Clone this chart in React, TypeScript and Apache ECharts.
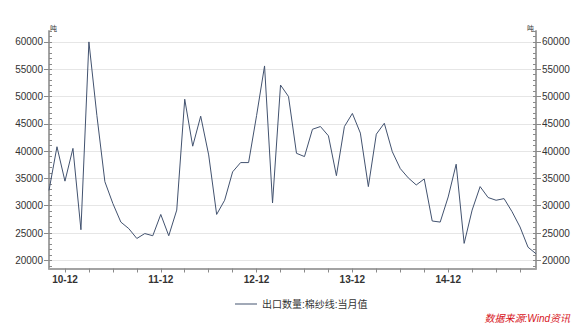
import React, { useEffect, useRef } from "react";
import * as echarts from "echarts";

const months: string[] = [
  "10-10", "10-11", "10-12",
  "11-01", "11-02", "11-03", "11-04", "11-05", "11-06", "11-07", "11-08", "11-09", "11-10", "11-11", "11-12",
  "12-01", "12-02", "12-03", "12-04", "12-05", "12-06", "12-07", "12-08", "12-09", "12-10", "12-11", "12-12",
  "13-01", "13-02", "13-03", "13-04", "13-05", "13-06", "13-07", "13-08", "13-09", "13-10", "13-11", "13-12",
  "14-01", "14-02", "14-03", "14-04", "14-05", "14-06", "14-07", "14-08", "14-09", "14-10", "14-11", "14-12",
  "15-01", "15-02", "15-03", "15-04", "15-05", "15-06", "15-07", "15-08", "15-09", "15-10", "15-11",
];

const exportVolume: number[] = [
  32800, 40800, 34500, 40500, 25600, 60000, 46500, 34400, 30400, 27000,
  25800, 24000, 24900, 24500, 28400, 24500, 29200, 49500, 40900, 46400,
  39300, 28400, 31000, 36200, 37900, 37900, 46500, 55600, 30500, 52100,
  50000, 39600, 39000, 44000, 44500, 42800, 35500, 44500, 46900, 43300,
  33500, 43100, 45100, 39900, 36800, 35100, 33800, 34900, 27200, 27000,
  31600, 37600, 23100, 29200, 33500, 31500, 31000, 31300, 28900, 26100,
  22400, 21200,
];

const majorTicks: number[] = [20000, 25000, 30000, 35000, 40000, 45000, 50000, 55000, 60000];
const minorTicks: number[] = [
  19000, 20000, 21000, 22000, 23000, 24000, 25000, 26000, 27000, 28000, 29000,
  30000, 31000, 32000, 33000, 34000, 35000, 36000, 37000, 38000, 39000, 40000,
  41000, 42000, 43000, 44000, 45000, 46000, 47000, 48000, 49000, 50000, 51000,
  52000, 53000, 54000, 55000, 56000, 57000, 58000, 59000, 60000, 61000, 62000,
];

const seriesName = "出口数量:棉纱线:当月值";
const sourceText = "数据来源:Wind资讯";
const unitText = "吨";

const Y_MIN = 18500;
const Y_MAX = 62000;
const AXIS_COLOR = "#a3a3a3";
const LINE_COLOR = "#42526f";
const FONT = "'Liberation Sans', 'Noto Sans CJK SC', sans-serif";

export default function App() {
  const ref = useRef<HTMLDivElement>(null);

  useEffect(() => {
    if (!ref.current) return;
    const chart = echarts.init(ref.current, null, { renderer: "svg" });

    const mainY = (position: "left" | "right") => ({
      type: "value",
      position,
      min: Y_MIN,
      max: Y_MAX,
      interval: 500,
      axisLine: { show: true, lineStyle: { color: AXIS_COLOR, width: 2 } },
      axisTick: {
        show: true,
        inside: false,
        length: 5,
        customValues: majorTicks,
        lineStyle: { color: "#8a8a8a", width: 1 },
      },
      axisLabel: {
        show: true,
        customValues: majorTicks,
        formatter: (v: number) => String(v),
        margin: 6,
        fontSize: 10,
        color: "#333",
        fontFamily: FONT,
      },
      splitLine: {
        show: position === "left",
        lineStyle: { color: "#e6e6e6", width: 1 },
      },
    });

    const minorY = (position: "left" | "right") => ({
      type: "value",
      position,
      min: Y_MIN,
      max: Y_MAX,
      interval: 500,
      axisLine: { show: false },
      axisTick: {
        show: true,
        inside: true,
        length: 3,
        customValues: minorTicks,
        lineStyle: { color: "#8a8a8a", width: 1 },
      },
      axisLabel: { show: false },
      splitLine: { show: false },
    });

    chart.setOption({
      animation: false,
      backgroundColor: "#ffffff",
      textStyle: { fontFamily: FONT },
      grid: { left: 49, right: 44, top: 31, bottom: 63.5, containLabel: false },
      legend: {
        data: [seriesName],
        icon: "rect",
        left: 230,
        top: 294,
        itemWidth: 22,
        itemHeight: 1,
        textStyle: { fontSize: 10, color: "#333", fontFamily: FONT },
      },
      xAxis: {
        type: "category",
        data: months,
        boundaryGap: false,
        axisLine: { show: true, lineStyle: { color: AXIS_COLOR, width: 2 } },
        axisTick: {
          show: true,
          length: 4,
          interval: (i: number) => i % 3 === 2,
          lineStyle: { color: "#8a8a8a", width: 1 },
        },
        axisLabel: {
          interval: (i: number) => i % 12 === 2,
          margin: 6,
          fontSize: 10,
          fontWeight: "bold",
          color: "#333",
          fontFamily: FONT,
        },
        splitLine: { show: false },
      },
      yAxis: [mainY("left"), mainY("right"), minorY("left"), minorY("right")],
      series: [
        {
          name: seriesName,
          type: "line",
          data: exportVolume,
          yAxisIndex: 0,
          symbol: "none",
          showSymbol: false,
          lineStyle: { color: LINE_COLOR, width: 1 },
          itemStyle: { color: LINE_COLOR },
        },
      ],
      graphic: [
        {
          type: "text",
          left: 50,
          top: 25,
          style: { text: unitText, fontSize: 7, fill: "#333", fontFamily: FONT },
        },
        {
          type: "text",
          right: 46,
          top: 25,
          style: { text: unitText, fontSize: 7, fill: "#333", fontFamily: FONT },
        },
        {
          type: "text",
          right: 10,
          top: 313,
          style: {
            text: sourceText,
            fontSize: 10,
            fontStyle: "italic",
            fill: "#d7141c",
            fontFamily: FONT,
          },
        },
      ],
    });

    return () => chart.dispose();
  }, []);

  return (
    <div
      ref={ref}
      style={{ position: "fixed", left: 0, top: 0, width: 580, height: 332, background: "#fff" }}
    />
  );
}
